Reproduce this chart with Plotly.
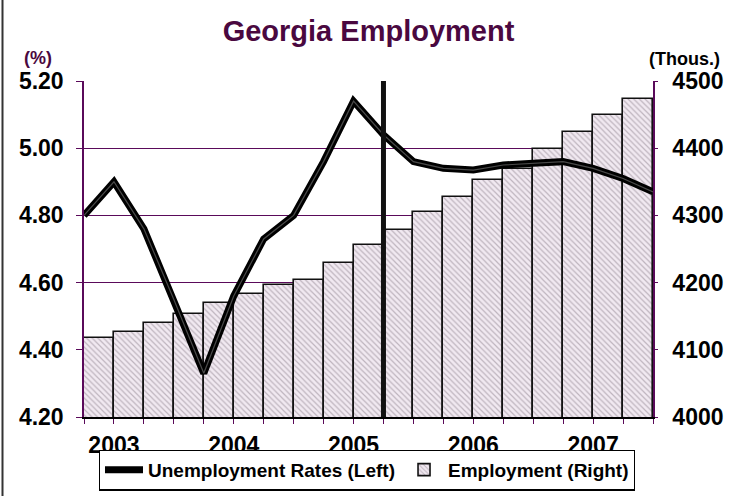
import plotly.graph_objects as go

# ---- data ----
year_labels = ["2003", "2004", "2005", "2006", "2007"]
year_tick_index = [1, 5, 9, 13, 17]

employment = [4117, 4127, 4140, 4153, 4169, 4183, 4196, 4204, 4229, 4256,
              4279, 4305, 4328, 4353, 4369, 4399, 4424, 4450, 4473]
unemployment = [4.80, 4.90, 4.76, 4.55, 4.33, 4.56, 4.73, 4.80, 4.96, 5.14,
                5.04, 4.96, 4.94, 4.935, 4.95, 4.955, 4.96, 4.94, 4.91, 4.87]

left_ticks = [4.20, 4.40, 4.60, 4.80, 5.00, 5.20]
right_ticks = [4000, 4100, 4200, 4300, 4400, 4500]
marker_index = 10

PURPLE = "#5a0a5a"
TITLE_PURPLE = "#4a0840"
FONT = "Liberation Sans, Arial, sans-serif"

bar_x = [i + 0.5 for i in range(len(employment))]
line_x = list(range(len(unemployment)))

fig = go.Figure()

fig.add_trace(go.Bar(
    x=bar_x, y=employment, yaxis="y", width=1.0,
    name="Employment (Right)", legendrank=2,
    marker=dict(
        color="#efe7ef",
        line=dict(color="#111111", width=1.6),
        pattern=dict(shape="\\", fgcolor="#8c808c", bgcolor="#f1e9f1",
                     size=4, solidity=0.3),
    ),
))

fig.add_trace(go.Scatter(
    x=line_x, y=unemployment, yaxis="y2", mode="lines",
    name="Unemployment Rates (Left)", legendrank=1,
    line=dict(color="#000000", width=7),
))
fig.add_trace(go.Scatter(
    x=line_x, y=unemployment, yaxis="y2", mode="lines",
    showlegend=False, hoverinfo="skip",
    line=dict(color="#4a4a4a", width=1.2),
))

ticktext = [""] * len(line_x)
for idx, lab in zip(year_tick_index, year_labels):
    ticktext[idx] = lab

fig.update_layout(
    width=732, height=496,
    margin=dict(l=84, r=79, t=81, b=79, autoexpand=False),
    paper_bgcolor="white", plot_bgcolor="white",
    bargap=0,
    font=dict(family=FONT, color="#000000"),
    title=dict(
        text="Georgia Employment",
        font=dict(family=FONT, size=29, color=TITLE_PURPLE, weight="bold"),
        x=0.5, xref="paper", xanchor="center",
        y=1 - 31 / 496, yref="container", yanchor="middle",
    ),
    xaxis=dict(
        range=[0, len(employment)], automargin=False,
        tickmode="array", tickvals=line_x, ticktext=ticktext,
        ticks="outside", ticklen=5, tickcolor=PURPLE, tickwidth=1,
        showline=True, linecolor="#000000", linewidth=2,
        showgrid=False, zeroline=False,
        tickfont=dict(family=FONT, size=23, weight="bold", color="#000000"),
        ticklabelstandoff=1,
    ),
    yaxis=dict(
        side="right", automargin=False,
        range=[right_ticks[0], right_ticks[-1]],
        tickmode="array", tickvals=right_ticks,
        ticks="outside", ticklen=3, tickcolor=PURPLE,
        showline=True, linecolor=PURPLE, linewidth=1.5,
        showgrid=False, zeroline=False,
        tickfont=dict(family=FONT, size=23, weight="bold", color="#000000"),
        ticklabelstandoff=10,
    ),
    yaxis2=dict(
        side="left", overlaying="y", automargin=False,
        range=[left_ticks[0], left_ticks[-1]],
        tickmode="array", tickvals=left_ticks, tickformat=".2f",
        ticks="outside", ticklen=6, tickcolor=PURPLE,
        showline=True, linecolor=PURPLE, linewidth=1.5,
        showgrid=True, gridcolor=PURPLE, gridwidth=1.2,
        zeroline=False,
        tickfont=dict(family=FONT, size=23, weight="bold", color="#000000"),
        ticklabelstandoff=8,
    ),
    legend=dict(
        orientation="h", x=0.497, xanchor="center", y=-0.097, yanchor="top",
        bordercolor="#000000", borderwidth=1.2, bgcolor="white",
        font=dict(family=FONT, size=19, weight="bold", color="#000000"),
        itemwidth=38, tracegroupgap=0,
    ),
    annotations=[
        dict(text="(%)", xref="paper", yref="paper",
             x=(38 - 84) / 569, y=(417 - 58) / 336,
             xanchor="center", yanchor="middle", showarrow=False,
             font=dict(family=FONT, size=18, weight="bold", color=TITLE_PURPLE)),
        dict(text="(Thous.)", xref="paper", yref="paper",
             x=(684 - 84) / 569, y=(417 - 59) / 336,
             xanchor="center", yanchor="middle", showarrow=False,
             font=dict(family=FONT, size=18, weight="bold", color="#000000")),
    ],
    shapes=[
        dict(type="line", xref="x", yref="paper",
             x0=marker_index, x1=marker_index, y0=0, y1=1,
             line=dict(color="#111111", width=5), layer="above"),
        dict(type="line", xref="paper", yref="paper",
             x0=(2.5 - 84) / 569, x1=(2.5 - 84) / 569,
             y0=(417 - 0) / 336, y1=(417 - 496) / 336,
             line=dict(color="#333333", width=2)),
    ],
)

fig.write_html("out.html")
